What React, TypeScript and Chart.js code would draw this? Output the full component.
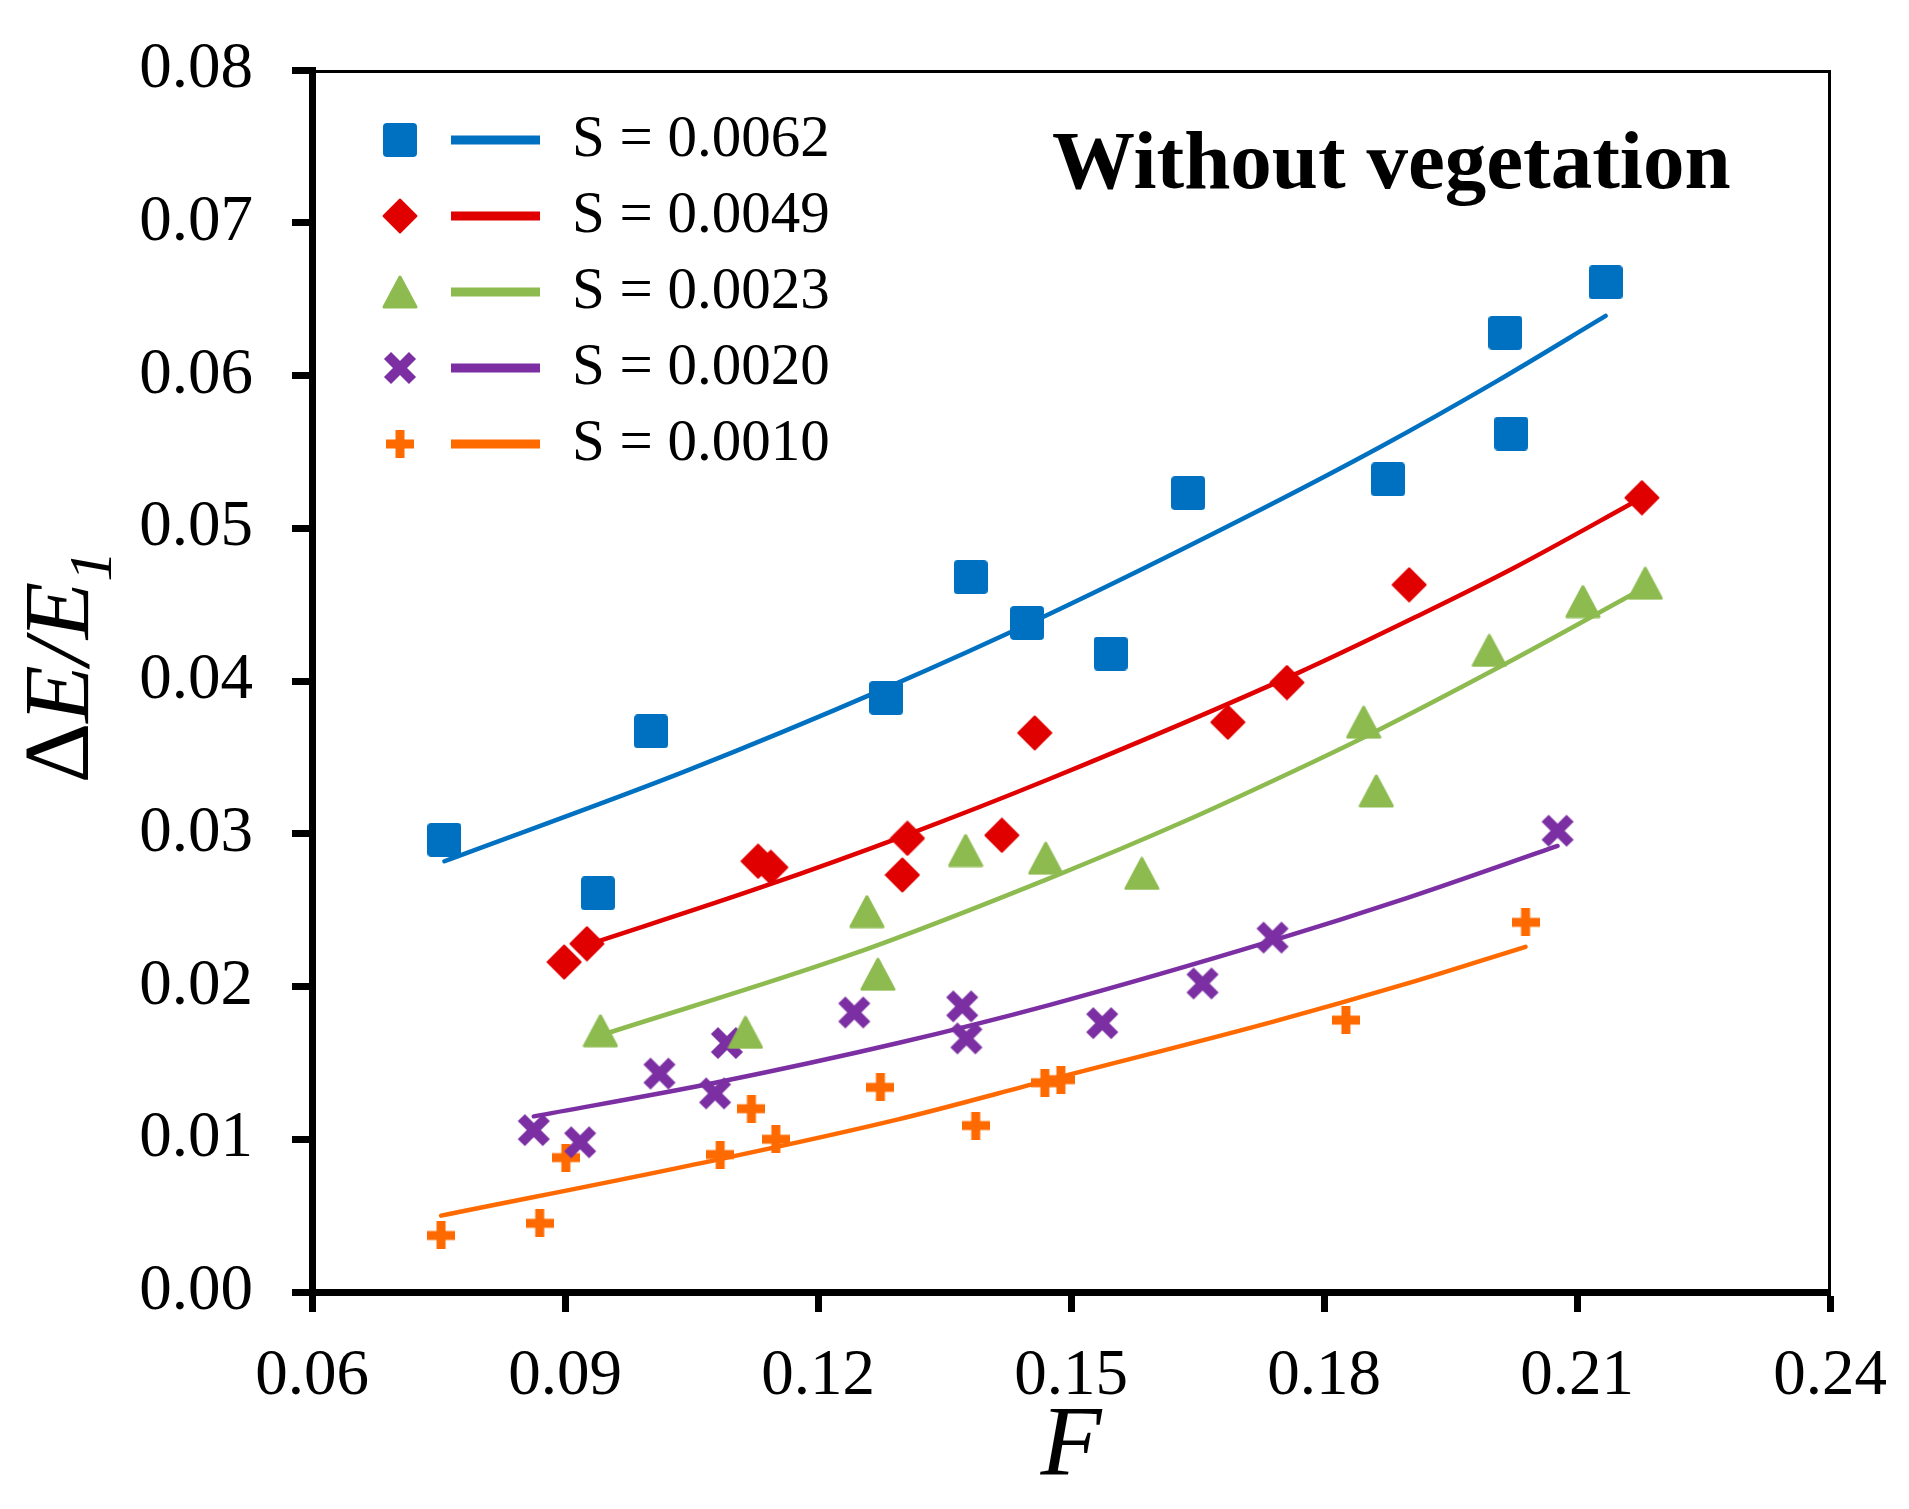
import React, { useEffect, useRef } from "react";
import { Chart, registerables } from "chart.js";

Chart.register(...registerables);

const seriesLabels = ["S = 0.0062", "S = 0.0049", "S = 0.0023", "S = 0.0020", "S = 0.0010"];
const seriesColors = ["#0070C0", "#E00000", "#8DBB50", "#7B2FA3", "#FF6A00"];
const markerKinds = ["square", "diamond", "triangle", "x", "plus"];

// measured points (F, dE/E1)
const f0062 = [0.0757, 0.0939, 0.1002, 0.1281, 0.1381, 0.1448, 0.1547, 0.1639, 0.1876, 0.2015, 0.2022, 0.2134];
const e0062 = [0.0296, 0.0261, 0.0367, 0.0389, 0.0468, 0.0438, 0.0418, 0.0523, 0.0532, 0.0628, 0.0562, 0.0661];
const f0049 = [0.0899, 0.0926, 0.1129, 0.1144, 0.1306, 0.1300, 0.1418, 0.1457, 0.1686, 0.1756, 0.1901, 0.2177];
const e0049 = [0.0216, 0.0228, 0.0282, 0.0278, 0.0297, 0.0273, 0.0299, 0.0366, 0.0373, 0.0399, 0.0463, 0.0520];
const f0023 = [0.0942, 0.1114, 0.1258, 0.1271, 0.1375, 0.1470, 0.1584, 0.1847, 0.1862, 0.1996, 0.2107, 0.2181];
const e0023 = [0.0171, 0.0170, 0.0249, 0.0208, 0.0289, 0.0284, 0.0274, 0.0373, 0.0328, 0.0420, 0.0452, 0.0464];
const f0020 = [0.0863, 0.0918, 0.1012, 0.1078, 0.1092, 0.1243, 0.1371, 0.1376, 0.1537, 0.1656, 0.1739, 0.2077];
const e0020 = [0.0106, 0.0098, 0.0143, 0.0130, 0.0163, 0.0183, 0.0187, 0.0166, 0.0176, 0.0202, 0.0232, 0.0302];
const f0010 = [0.0753, 0.0870, 0.0901, 0.1084, 0.1121, 0.1150, 0.1274, 0.1387, 0.1469, 0.1488, 0.1826, 0.2039];
const e0010 = [0.0037, 0.0045, 0.0088, 0.0090, 0.0120, 0.0100, 0.0134, 0.0109, 0.0137, 0.0139, 0.0178, 0.0242];

// trend curves
const fitF0062 = [0.0757, 0.1043, 0.1279, 0.1475, 0.1703, 0.1866, 0.2004, 0.2134];
const fitE0062 = [0.0282, 0.0341, 0.0395, 0.0444, 0.0506, 0.0553, 0.0596, 0.0639];
const fitF0049 = [0.0925, 0.1133, 0.1304, 0.1475, 0.1772, 0.1909, 0.2025, 0.2177];
const fitE0049 = [0.0227, 0.0265, 0.0299, 0.0336, 0.0406, 0.0442, 0.0474, 0.0520];
const fitF0023 = [0.0942, 0.1245, 0.1475, 0.1634, 0.1787, 0.1847, 0.2004, 0.2180];
const fitE0023 = [0.0168, 0.0222, 0.0271, 0.0308, 0.0347, 0.0363, 0.0408, 0.0461];
const fitF0020 = [0.0863, 0.1078, 0.1295, 0.1475, 0.1739, 0.1899, 0.2077];
const fitE0020 = [0.0115, 0.0137, 0.0163, 0.0188, 0.0230, 0.0258, 0.0292];
const fitF0010 = [0.0753, 0.1084, 0.1295, 0.1475, 0.1740, 0.1899, 0.2039];
const fitE0010 = [0.0050, 0.0087, 0.0113, 0.0139, 0.0177, 0.0202, 0.0226];

const xTicks = [0.06, 0.09, 0.12, 0.15, 0.18, 0.21, 0.24];
const yTicks = [0, 0.01, 0.02, 0.03, 0.04, 0.05, 0.06, 0.07, 0.08];

const pointSets = [[f0062, e0062], [f0049, e0049], [f0023, e0023], [f0020, e0020], [f0010, e0010]];
const fitSets = [[fitF0062, fitE0062], [fitF0049, fitE0049], [fitF0023, fitE0023], [fitF0020, fitE0020], [fitF0010, fitE0010]];

const SERIF = '"Liberation Serif", "Times New Roman", serif';

function toXY(xs: number[], ys: number[]) {
  return xs.map((x, i) => ({ x, y: ys[i] }));
}

// marker glyphs similar to the Excel ones (slightly rounded)
function makeMarker(kind: string, color: string): HTMLCanvasElement {
  const c = document.createElement("canvas");
  const ctx = c.getContext("2d")!;
  if (kind === "square") {
    c.width = 34; c.height = 34;
    ctx.fillStyle = color;
    ctx.beginPath();
    ctx.roundRect(0, 0, 34, 34, 4);
    ctx.fill();
  } else if (kind === "diamond") {
    c.width = 36; c.height = 36;
    ctx.fillStyle = color; ctx.strokeStyle = color;
    ctx.lineWidth = 2; ctx.lineJoin = "round";
    ctx.beginPath();
    ctx.moveTo(18, 1.5); ctx.lineTo(34.5, 18); ctx.lineTo(18, 34.5); ctx.lineTo(1.5, 18);
    ctx.closePath();
    ctx.fill(); ctx.stroke();
  } else if (kind === "triangle") {
    c.width = 36; c.height = 34;
    ctx.fillStyle = color; ctx.strokeStyle = color;
    ctx.lineWidth = 3; ctx.lineJoin = "round";
    ctx.beginPath();
    ctx.moveTo(18, 2); ctx.lineTo(34, 32); ctx.lineTo(2, 32);
    ctx.closePath();
    ctx.fill(); ctx.stroke();
  } else if (kind === "x") {
    c.width = 34; c.height = 34;
    ctx.strokeStyle = color; ctx.lineWidth = 10; ctx.lineCap = "butt";
    ctx.beginPath();
    ctx.moveTo(4.5, 4.5); ctx.lineTo(29.5, 29.5);
    ctx.moveTo(29.5, 4.5); ctx.lineTo(4.5, 29.5);
    ctx.stroke();
  } else {
    c.width = 28; c.height = 28;
    ctx.fillStyle = color;
    ctx.fillRect(9.5, 0, 9, 28);
    ctx.fillRect(0, 9.5, 28, 9);
  }
  return c;
}

const decorPlugin = {
  id: "decor",
  afterDraw(chart: any) {
    const { ctx, chartArea } = chart;
    const { left, top, right, bottom } = chartArea;
    const markers: HTMLCanvasElement[] = chart.$markers || [];
    ctx.save();

    // thin top and right frame
    ctx.strokeStyle = "#000";
    ctx.lineWidth = 3;
    ctx.beginPath();
    ctx.moveTo(left, top + 1.5);
    ctx.lineTo(right - 0.5, top + 1.5);
    ctx.lineTo(right - 0.5, bottom);
    ctx.stroke();

    // legend: marker, line, label
    seriesLabels.forEach((label, i) => {
      const y = top + 70 + i * 76;
      const m = markers[i];
      if (m) ctx.drawImage(m, left + 88 - m.width / 2, y - m.height / 2);
      ctx.strokeStyle = seriesColors[i];
      ctx.lineWidth = 9;
      ctx.lineCap = "butt";
      ctx.beginPath();
      ctx.moveTo(left + 139, y);
      ctx.lineTo(left + 228, y);
      ctx.stroke();
      ctx.fillStyle = "#000";
      ctx.font = `59px ${SERIF}`;
      ctx.textAlign = "left";
      ctx.textBaseline = "middle";
      ctx.fillText(label, left + 260, y);
    });

    // panel title
    ctx.fillStyle = "#000";
    ctx.font = `bold 83px ${SERIF}`;
    ctx.textAlign = "left";
    ctx.textBaseline = "alphabetic";
    ctx.fillText("Without vegetation", left + 740, top + 118);

    // y axis title: ΔE/E1 with subscript
    const mainUp = `94px ${SERIF}`;
    const mainIt = `italic 94px ${SERIF}`;
    const subIt = `italic 62px ${SERIF}`;
    ctx.font = mainUp; const w1 = ctx.measureText("Δ").width;
    ctx.font = mainIt; const w2 = ctx.measureText("E/E").width;
    ctx.font = subIt; const w3 = ctx.measureText("1").width;
    const total = w1 + w2 + w3;
    const cy = (top + bottom) / 2 - 14;
    ctx.translate(88, cy + total / 2);
    ctx.rotate(-Math.PI / 2);
    ctx.textBaseline = "alphabetic";
    ctx.font = mainUp; ctx.fillText("Δ", 0, 0);
    ctx.font = mainIt; ctx.fillText("E/E", w1, 0);
    ctx.font = subIt; ctx.fillText("1", w1 + w2, 23);
    ctx.restore();
  },
};

export default function App() {
  const chartRef = useRef<HTMLCanvasElement | null>(null);

  useEffect(() => {
    if (!chartRef.current) return;
    const ctx = chartRef.current.getContext("2d");
    if (!ctx) return;

    const markers = markerKinds.map((k, i) => makeMarker(k, seriesColors[i]));

    const pointDatasets = pointSets.map(([xs, ys], i) => ({
      label: seriesLabels[i],
      data: toXY(xs, ys),
      showLine: false,
      pointStyle: markers[i],
      pointRadius: 17,
      pointHoverRadius: 17,
      backgroundColor: seriesColors[i],
      borderColor: seriesColors[i],
    }));
    const fitDatasets = fitSets.map(([xs, ys], i) => ({
      label: seriesLabels[i] + " fit",
      data: toXY(xs, ys),
      showLine: true,
      pointRadius: 0,
      borderColor: seriesColors[i],
      borderWidth: 4.5,
      borderCapStyle: "round" as const,
      cubicInterpolationMode: "monotone" as const,
      fill: false,
    }));

    const tickFont = { family: SERIF, size: 65 };

    const chart = new Chart(ctx, {
      type: "scatter",
      data: { datasets: [...pointDatasets, ...fitDatasets] as any },
      options: {
        animation: false,
        responsive: false,
        devicePixelRatio: 1,
        layout: { padding: { left: 0, right: 79, top: 70, bottom: 0 } },
        plugins: { legend: { display: false }, tooltip: { enabled: false } },
        scales: {
          x: {
            type: "linear",
            position: "bottom",
            min: xTicks[0],
            max: xTicks[xTicks.length - 1],
            afterBuildTicks: (s: any) => { s.ticks = xTicks.map((v) => ({ value: v })); },
            afterFit: (s: any) => { s.height = 217; s.paddingLeft = 0; s.paddingRight = 0; },
            ticks: {
              padding: 26,
              color: "#000",
              font: tickFont,
              maxRotation: 0,
              autoSkip: false,
              callback: (v: any) => Number(v).toFixed(2),
            },
            grid: { drawOnChartArea: false, drawTicks: true, tickLength: 20, tickWidth: 7, tickColor: "#000" },
            border: { display: true, width: 7, color: "#000" },
            title: {
              display: true,
              text: "F",
              color: "#000",
              font: { family: SERIF, size: 100, style: "italic", lineHeight: 1 },
              padding: { top: 0, bottom: 11 },
            },
          },
          y: {
            type: "linear",
            position: "left",
            min: yTicks[0],
            max: yTicks[yTicks.length - 1],
            afterBuildTicks: (s: any) => { s.ticks = yTicks.map((v) => ({ value: v })); },
            afterFit: (s: any) => { s.width = 312; s.paddingTop = 0; s.paddingBottom = 0; },
            ticks: {
              padding: 39,
              color: "#000",
              font: tickFont,
              autoSkip: false,
              callback: (v: any) => Number(v).toFixed(2),
            },
            grid: { drawOnChartArea: false, drawTicks: true, tickLength: 20, tickWidth: 7, tickColor: "#000" },
            border: { display: true, width: 7, color: "#000" },
            title: { display: false },
          },
        },
      },
      plugins: [decorPlugin],
    });
    (chart as any).$markers = markers;
    chart.draw();

    return () => {
      chart.destroy();
    };
  }, []);

  return (
    <div style={{ position: "absolute", left: 0, top: 0, width: 1909, height: 1509, background: "#fff" }}>
      <canvas ref={chartRef} width="1909" height="1509"></canvas>
    </div>
  );
}
